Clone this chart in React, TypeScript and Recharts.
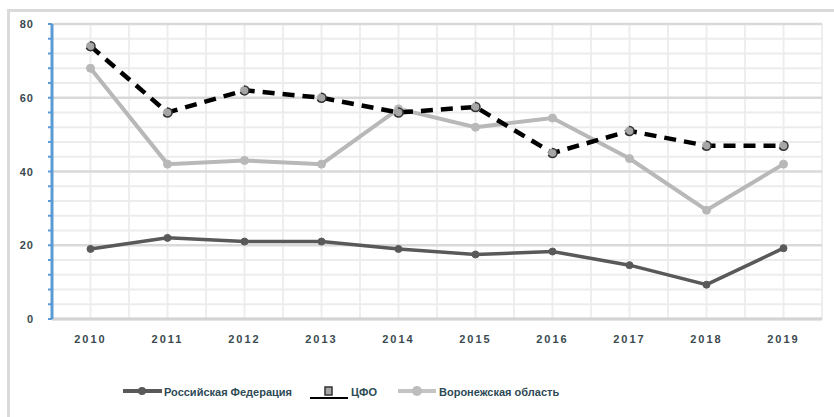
import { CartesianGrid, Line, LineChart, XAxis, YAxis } from "recharts";

const years = ["2010", "2011", "2012", "2013", "2014", "2015", "2016", "2017", "2018", "2019"];
const russia = [19, 22, 21, 21, 19, 17.5, 18.3, 14.6, 9.3, 19.2];
const cfo = [74, 56, 62, 60, 56, 57.5, 45, 51, 47, 47];
const voronezh = [68, 42, 43, 42, 57, 52, 54.5, 43.5, 29.5, 42];
const yTicks = [0, 4, 8, 12, 16, 20, 24, 28, 32, 36, 40, 44, 48, 52, 56, 60, 64, 68, 72, 76, 80];
const majorTicks = [0, 20, 40, 60, 80];
const minorTicks = yTicks.filter((v) => v % 20 !== 0);

const data = years.map((year, idx) => ({
  idx,
  year,
  russia: russia[idx],
  cfo: cfo[idx],
  voronezh: voronezh[idx],
}));

const xTicks = years.map((_, i) => i);
const halfSteps = [-0.5, ...years.flatMap((_, i) => [i, i + 0.5])];

const labelStyle = { fontFamily: "Liberation Sans, Arial, sans-serif", fontWeight: 700, fontSize: 11 };

function YTick(props: any) {
  const { x, y, payload } = props;
  if (payload.value % 20 !== 0) return null;
  return (
    <text x={x} y={y} dx={-12} dy={4} textAnchor="end" fill="#3b4a50" style={{ ...labelStyle, letterSpacing: 1 }}>
      {payload.value}
    </text>
  );
}

// legend drawn as plain html under the chart
function ChartLegend() {
  const items = [
    { name: "Российская Федерация", x: 123, kind: "ru" },
    { name: "ЦФО", x: 310, kind: "cfo" },
    { name: "Воронежская область", x: 398, kind: "vr" },
  ];
  return (
    <div style={{ position: "absolute", left: 0, top: 382, width: 834, height: 20 }}>
      {items.map((it) => (
        <div
          key={it.name}
          style={{ position: "absolute", left: it.x, top: 0, display: "flex", alignItems: "center", height: 20 }}
        >
          <svg width={40} height={20}>
            {it.kind === "ru" && (
              <>
                <line x1={0} x2={39} y1={9} y2={9} stroke="#595959" strokeWidth={4} />
                <circle cx={19} cy={9} r={4} fill="#595959" />
              </>
            )}
            {it.kind === "cfo" && (
              <>
                <line x1={0} x2={38} y1={16} y2={16} stroke="#000" strokeWidth={2} />
                <rect x={15} y={5} width={7} height={8} fill="#a6a6a6" stroke="#333" strokeWidth={1.5} />
              </>
            )}
            {it.kind === "vr" && (
              <>
                <line x1={0} x2={38} y1={9} y2={9} stroke="#c4c4c4" strokeWidth={4} />
                <circle cx={19} cy={9} r={5} fill="#bdbdbd" />
              </>
            )}
          </svg>
          <span style={{ ...labelStyle, color: "#2d4a55", marginLeft: 1 }}>{it.name}</span>
        </div>
      ))}
    </div>
  );
}

export default function App() {
  return (
    <div style={{ position: "absolute", left: 0, top: 0, width: 834, height: 417, background: "#fff", overflow: "hidden" }}>
      <div
        style={{
          position: "absolute",
          left: 7,
          top: 9,
          width: 840,
          height: 420,
          border: "3px solid #dadada",
          boxSizing: "border-box",
        }}
      />
      <div style={{ position: "absolute", left: 0, top: 0 }}>
        <LineChart width={834} height={417} data={data} margin={{ top: 24, right: 12, left: 22, bottom: 68 }}>
          <CartesianGrid
            horizontal={false}
            verticalValues={halfSteps}
            stroke="#eeeeee"
            strokeWidth={2}
          />
          <CartesianGrid
            vertical={false}
            horizontalValues={minorTicks}
            stroke="#ececec"
            strokeWidth={2}
          />
          <CartesianGrid
            vertical={false}
            horizontalValues={majorTicks}
            stroke="#d9d9d9"
            strokeWidth={2.5}
          />
          <XAxis
            type="number"
            dataKey="idx"
            domain={[-0.5, 9.5]}
            ticks={xTicks}
            tickFormatter={(i: number) => years[i]}
            axisLine={{ stroke: "#d4d4d4", strokeWidth: 3 }}
            tickLine={false}
            tickMargin={10}
            height={30}
            tick={{ fill: "#3b4a50", ...labelStyle, letterSpacing: 2 } as any}
          />
          <YAxis
            domain={[0, 80]}
            ticks={yTicks}
            interval={0}
            width={30}
            axisLine={{ stroke: "#5b9bd5", strokeWidth: 3 }}
            tickLine={{ stroke: "#5b9bd5", strokeWidth: 2 }}
            tickSize={4}
            tick={<YTick />}
          />
          <Line
            dataKey="russia"
            name="Российская Федерация"
            stroke="#595959"
            strokeWidth={3.5}
            dot={{ r: 3.5, fill: "#595959", stroke: "#595959", strokeWidth: 1 }}
            isAnimationActive={false}
          />
          <Line
            dataKey="voronezh"
            name="Воронежская область"
            stroke="#b8b8b8"
            strokeWidth={4}
            dot={{ r: 4, fill: "#b8b8b8", stroke: "#b8b8b8", strokeWidth: 1 }}
            isAnimationActive={false}
          />
          <Line
            dataKey="cfo"
            name="ЦФО"
            stroke="#000000"
            strokeWidth={4.5}
            strokeDasharray="12 8"
            dot={{ r: 4.5, fill: "#a6a6a6", stroke: "#333333", strokeWidth: 1.5 }}
            isAnimationActive={false}
          />
        </LineChart>
      </div>
      <ChartLegend />
    </div>
  );
}
